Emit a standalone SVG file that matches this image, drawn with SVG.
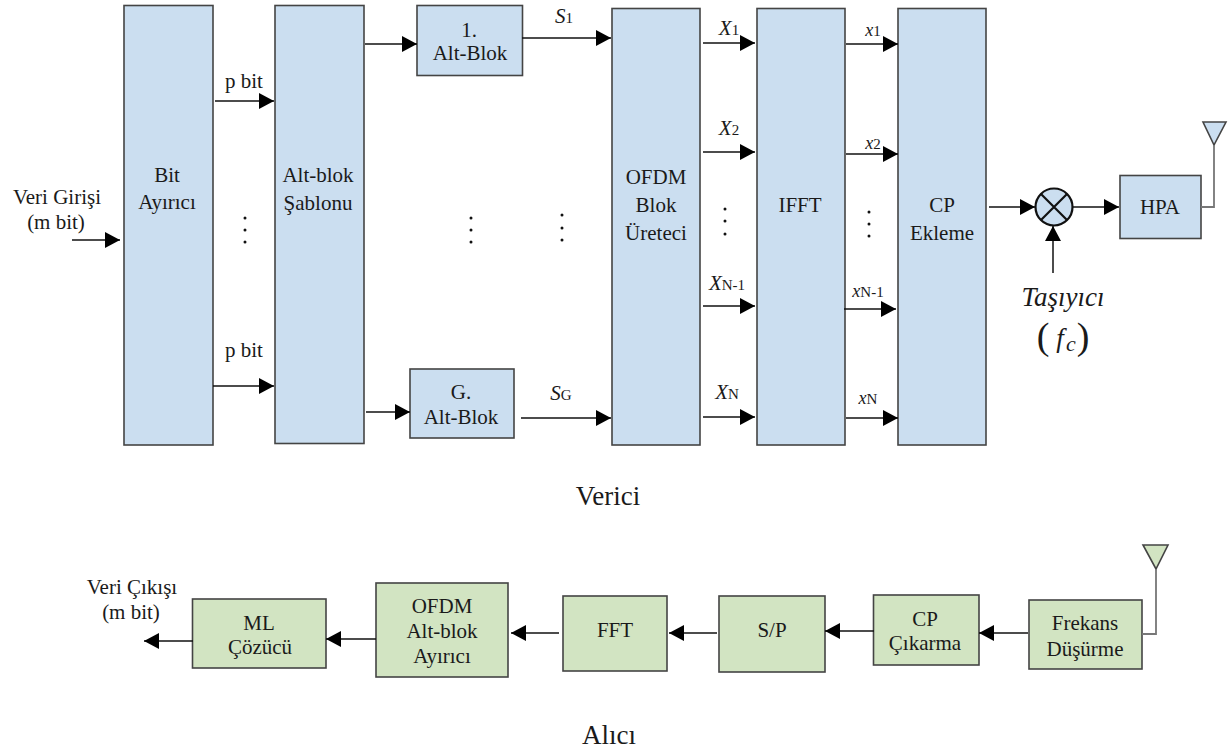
<svg xmlns="http://www.w3.org/2000/svg" width="1228" height="750" viewBox="0 0 1228 750">
<style>
text{font-family:"Liberation Serif","Times New Roman",serif;fill:#1a1a1a;font-size:21px;text-anchor:middle}
.b rect,.b circle,.b path.f{fill:#cbdef0;stroke:#444;stroke-width:1.6}
.g rect,.g path.f{fill:#d2e4c2;stroke:#444;stroke-width:1.6}
.c line{stroke:#111;stroke-width:1.5}
.i{font-style:italic}
.x{font-style:italic;font-size:18px}
.sm{font-size:15px;font-style:normal}
.ant{fill:none;stroke:#777;stroke-width:1.8}
.d{fill:#111}
.big{font-size:27px}
</style>
<defs>
<marker id="a" markerUnits="userSpaceOnUse" markerWidth="16" markerHeight="16" refX="15" refY="8" orient="auto"><path d="M0 0L15 8L0 16Z" fill="#000"/></marker>
</defs>
<rect width="1228" height="750" fill="#fff"/>
<g id="bit" class="b"><rect x="124" y="5.500" width="89" height="439.500"/><text x="167" y="182">Bit</text><text x="167" y="209">Ayırıcı</text></g>
<g id="sablon" class="b"><rect x="275" y="5.500" width="89" height="438"/><text x="318" y="182">Alt-blok</text><text x="318" y="210">Şablonu</text></g>
<g id="alt1" class="b"><rect x="417" y="5.500" width="105.500" height="70"/><text x="469" y="37">1.</text><text x="470" y="60">Alt-Blok</text></g>
<g id="altg" class="b"><rect x="410" y="369" width="104" height="69"/><text x="461" y="399">G.</text><text x="461" y="424">Alt-Blok</text></g>
<g id="ofdm" class="b"><rect x="612" y="8.500" width="88" height="436.500"/><text x="656" y="184">OFDM</text><text x="656" y="212">Blok</text><text x="656" y="240">Üreteci</text></g>
<g id="ifft" class="b"><rect x="757" y="8.500" width="88" height="436.500"/><text x="800" y="212">IFFT</text></g>
<g id="cp" class="b"><rect x="898" y="8.500" width="88" height="436.500"/><text x="942" y="212">CP</text><text x="942" y="240">Ekleme</text></g>
<g id="mixer" class="b"><circle cx="1054" cy="207" r="18.500" style="stroke:#111;stroke-width:2.200"/><path d="M1041 194L1067 220M1067 194L1041 220" stroke="#111" stroke-width="2.200" fill="none"/></g>
<g id="hpa" class="b"><rect x="1120" y="175.500" width="81" height="63"/><text x="1160" y="214">HPA</text></g>
<g id="ant-tx" class="b"><path class="f" d="M1203 122H1226L1214 145Z"/><path class="ant" d="M1214 145V207H1201"/></g>

<g id="ml" class="g"><rect x="192.500" y="599" width="133.500" height="69"/><text x="259" y="630">ML</text><text x="260" y="654">Çözücü</text></g>
<g id="ayirici" class="g"><rect x="376" y="583" width="132" height="94"/><text x="442" y="613">OFDM</text><text x="442" y="638">Alt-blok</text><text x="442" y="663">Ayırıcı</text></g>
<g id="fft" class="g"><rect x="563" y="596" width="104" height="75"/><text x="615" y="637">FFT</text></g>
<g id="sp" class="g"><rect x="719" y="596" width="106" height="76"/><text x="772" y="637">S/P</text></g>
<g id="cpc" class="g"><rect x="873.500" y="595" width="105.500" height="70"/><text x="925" y="626">CP</text><text x="925" y="650">Çıkarma</text></g>
<g id="frekans" class="g"><rect x="1029" y="600" width="113" height="69"/><text x="1085" y="630">Frekans</text><text x="1085" y="656">Düşürme</text></g>
<g id="ant-rx" class="g"><path class="f" d="M1143 545H1168L1156 569Z"/><path class="ant" d="M1156 569V634H1142"/></g>

<g id="connectors" class="c">
<line x1="72" y1="240" x2="120" y2="240" marker-end="url(#a)"/>
<line x1="215" y1="101" x2="274" y2="101" marker-end="url(#a)"/>
<line x1="213" y1="386" x2="274" y2="386" marker-end="url(#a)"/>
<line x1="365" y1="44" x2="417" y2="44" marker-end="url(#a)"/>
<line x1="366" y1="412" x2="410" y2="412" marker-end="url(#a)"/>
<line x1="522" y1="38" x2="611" y2="38" marker-end="url(#a)"/>
<line x1="521" y1="418" x2="611" y2="418" marker-end="url(#a)"/>
<line x1="703" y1="43" x2="755" y2="43" marker-end="url(#a)"/>
<line x1="703" y1="152" x2="755" y2="152" marker-end="url(#a)"/>
<line x1="703" y1="306" x2="755" y2="306" marker-end="url(#a)"/>
<line x1="703" y1="417" x2="755" y2="417" marker-end="url(#a)"/>
<line x1="846" y1="44" x2="898" y2="44" marker-end="url(#a)"/>
<line x1="846" y1="154" x2="898" y2="154" marker-end="url(#a)"/>
<line x1="844" y1="309" x2="896" y2="309" marker-end="url(#a)"/>
<line x1="846" y1="418" x2="898" y2="418" marker-end="url(#a)"/>
<line x1="989" y1="207" x2="1035" y2="207" marker-end="url(#a)"/>
<line x1="1073" y1="207" x2="1119" y2="207" marker-end="url(#a)"/>
<line x1="1053" y1="273" x2="1053" y2="226" marker-end="url(#a)"/>
<line x1="193" y1="641" x2="144" y2="641" marker-end="url(#a)"/>
<line x1="376" y1="639" x2="326" y2="639" marker-end="url(#a)"/>
<line x1="559" y1="633" x2="511" y2="633" marker-end="url(#a)"/>
<line x1="717" y1="633" x2="669" y2="633" marker-end="url(#a)"/>
<line x1="874" y1="631" x2="825" y2="631" marker-end="url(#a)"/>
<line x1="1028" y1="633" x2="979" y2="633" marker-end="url(#a)"/>
</g>

<g id="labels">
<text x="57" y="204">Veri Girişi</text>
<text x="56" y="229">(m bit)</text>
<text x="244" y="88">p bit</text>
<text x="244" y="357">p bit</text>
<text x="564" y="23" class="i">S<tspan class="sm">1</tspan></text>
<text x="561" y="400" class="i">S<tspan class="sm">G</tspan></text>
<text x="729" y="35" class="i">X<tspan class="sm">1</tspan></text>
<text x="729" y="135" class="i">X<tspan class="sm">2</tspan></text>
<text x="727" y="290" class="i">X<tspan class="sm">N-1</tspan></text>
<text x="727" y="399" class="i">X<tspan class="sm">N</tspan></text>
<text x="873" y="36" class="x">x<tspan class="sm">1</tspan></text>
<text x="873" y="149" class="x">x<tspan class="sm">2</tspan></text>
<text x="868" y="297" class="x">x<tspan class="sm">N-1</tspan></text>
<text x="868" y="404" class="x">x<tspan class="sm">N</tspan></text>
<text x="1063" y="306" class="i big">Taşıyıcı</text>
<text x="1043" y="349" style="font-size:38px">(</text>
<text x="1060" y="347" class="i big">f</text>
<text x="1071" y="351" class="i" style="font-size:22px">c</text>
<text x="1083" y="349" style="font-size:38px">)</text>
<text x="608" y="505" class="big">Verici</text>
<text x="609" y="744" class="big">Alıcı</text>
<text x="132" y="594">Veri Çıkışı</text>
<text x="131" y="619">(m bit)</text>
</g>
<g id="dots" class="d">
<circle cx="245" cy="218" r="1.500"/><circle cx="245" cy="230" r="1.500"/><circle cx="245" cy="242" r="1.500"/>
<circle cx="471" cy="218" r="1.500"/><circle cx="471" cy="230" r="1.500"/><circle cx="471" cy="242" r="1.500"/>
<circle cx="562" cy="215" r="1.500"/><circle cx="562" cy="228" r="1.500"/><circle cx="562" cy="240" r="1.500"/>
<circle cx="725" cy="209" r="1.500"/><circle cx="725" cy="221" r="1.500"/><circle cx="725" cy="234" r="1.500"/>
<circle cx="869" cy="212" r="1.500"/><circle cx="869" cy="224" r="1.500"/><circle cx="869" cy="236" r="1.500"/>
</g>
</svg>
